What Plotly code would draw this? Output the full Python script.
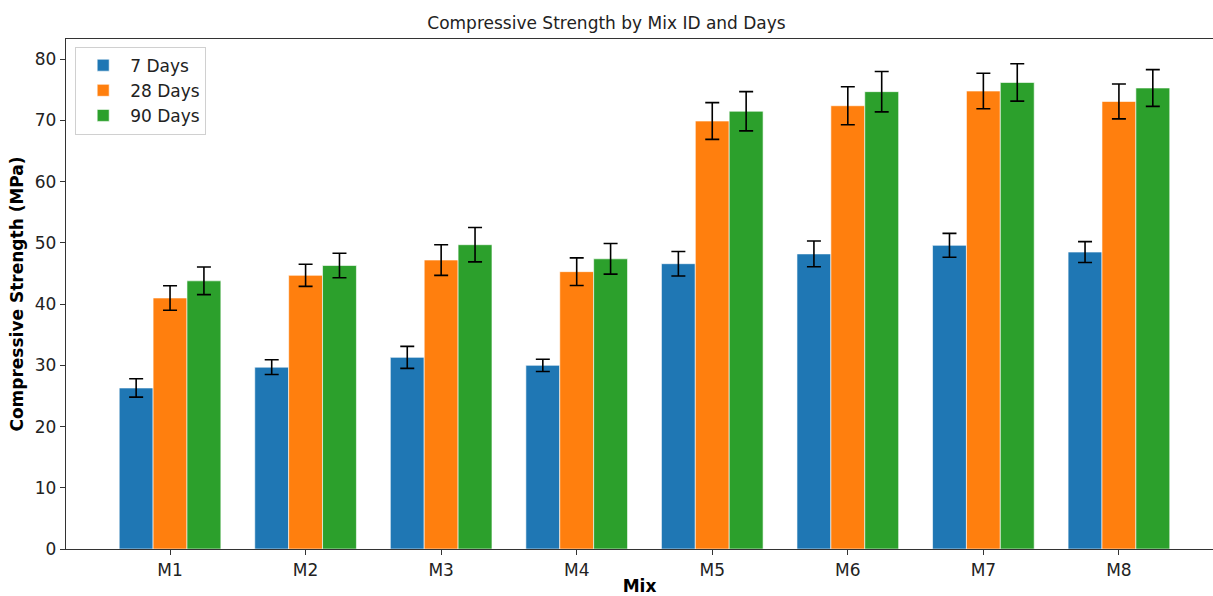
import plotly.graph_objects as go

mixes = ["M1", "M2", "M3", "M4", "M5", "M6", "M7", "M8"]
series_names = ["7 Days", "28 Days", "90 Days"]
days7 = [26.3, 29.7, 31.3, 30.0, 46.6, 48.2, 49.6, 48.5]
days28 = [41.0, 44.7, 47.2, 45.3, 69.9, 72.4, 74.8, 73.1]
days90 = [43.8, 46.3, 49.7, 47.4, 71.5, 74.7, 76.2, 75.3]
err7 = [1.5, 1.2, 1.8, 1.0, 2.0, 2.1, 1.95, 1.7]
err28 = [2.0, 1.8, 2.5, 2.25, 3.0, 3.1, 2.9, 2.85]
err90 = [2.25, 2.0, 2.8, 2.5, 3.2, 3.3, 3.05, 3.0]
colors = ["#1f77b4", "#ff7f0e", "#2ca02c"]

font = "DejaVu Sans"
fig = go.Figure()
for name, vals, errs, col in zip(series_names, [days7, days28, days90],
                                 [err7, err28, err90], colors):
    fig.add_trace(go.Bar(
        x=mixes, y=vals, name=name,
        marker=dict(color=col, line=dict(color="rgba(255,255,255,0.6)", width=1)),
        error_y=dict(type="data", array=errs, visible=True, color="black",
                     thickness=1.6, width=7),
    ))

fig.update_layout(
    width=1213, height=596,
    barmode="group", bargap=0.25, bargroupgap=0,
    plot_bgcolor="white", paper_bgcolor="white",
    margin=dict(l=66, r=0, t=39, b=47, autoexpand=False),
    font=dict(family=font, size=18, color="#222"),
    title=dict(text="Compressive Strength by Mix ID and Days", x=0.5, xref="container",
               y=1 - 23 / 596, yref="container", xanchor="center", yanchor="middle",
               font=dict(family=font, size=17, color="#222")),
    legend=dict(x=0.008, y=0.985, xanchor="left", yanchor="top",
                bgcolor="rgba(255,255,255,0.8)", bordercolor="#d0d0d0", borderwidth=1,
                font=dict(family=font, size=17), tracegroupgap=0,
                itemwidth=44),
    showlegend=True,
)
fig.update_xaxes(
    title=dict(text="<b>Mix</b>", font=dict(family=font, size=17, color="black"), standoff=4),
    automargin=False,
    range=[-0.7675, 7.694], showline=True, linecolor="#333", linewidth=1.3,
    mirror=True, ticks="outside", ticklen=5, tickcolor="#333", showgrid=False,
    tickfont=dict(size=17, color="#222"),
)
fig.update_yaxes(
    title=dict(text="<b>Compressive Strength (MPa)</b>", font=dict(family=font, size=17, color="black"),
               standoff=6),
    automargin=False,
    range=[0, 83.3], dtick=10, showline=True, linecolor="#333", linewidth=1.3,
    ticks="outside", ticklen=5, tickcolor="#333", showgrid=False, zeroline=False,
    tickfont=dict(size=17, color="#222"),
)
fig.write_html("out.html", config={"displayModeBar": False},
               post_script="document.body.style.margin='0';document.body.style.overflow='hidden';")
